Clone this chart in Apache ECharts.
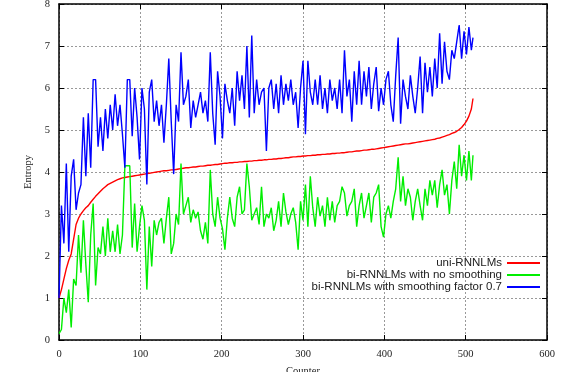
<!DOCTYPE html>
<html>
<head>
<meta charset="utf-8">
<script src="https://cdn.jsdelivr.net/npm/echarts@6/dist/echarts.min.js"></script>
<style>
  html, body { margin: 0; padding: 0; background: #fff; }
  #chart { width: 561px; height: 372px; }
</style>
</head>
<body>
<div id="chart"></div>
<script>
// sample positions (every 3rd counter, plus the last one)
const counters = [
  0, 3, 6, 9, 12, 15, 18, 21, 24, 27, 30, 33, 36, 39, 42, 45, 48, 51, 54, 57,
  60, 63, 66, 69, 72, 75, 78, 81, 84, 87, 90, 93, 96, 99, 102, 105, 108, 111, 114, 117,
  120, 123, 126, 129, 132, 135, 138, 141, 144, 147, 150, 153, 156, 159, 162, 165, 168, 171, 174, 177,
  180, 183, 186, 189, 192, 195, 198, 201, 204, 207, 210, 213, 216, 219, 222, 225, 228, 231, 234, 237,
  240, 243, 246, 249, 252, 255, 258, 261, 264, 267, 270, 273, 276, 279, 282, 285, 288, 291, 294, 297,
  300, 303, 306, 309, 312, 315, 318, 321, 324, 327, 330, 333, 336, 339, 342, 345, 348, 351, 354, 357,
  360, 363, 366, 369, 372, 375, 378, 381, 384, 387, 390, 393, 396, 399, 402, 405, 408, 411, 414, 417,
  420, 423, 426, 429, 432, 435, 438, 441, 444, 447, 450, 453, 456, 459, 462, 465, 468, 471, 474, 477,
  480, 483, 486, 489, 492, 495, 498, 501, 504, 507, 509
]

const uniRnnlm = [
  1.0, 1.2, 1.45, 1.7, 1.9, 2.05, 2.4, 2.75, 2.9, 3.0, 3.08, 3.15, 3.2, 3.28, 3.35, 3.42, 3.48, 3.54, 3.6, 3.65,
  3.7, 3.73, 3.76, 3.79, 3.82, 3.84, 3.86, 3.87, 3.88, 3.89, 3.9, 3.91, 3.92, 3.93, 3.94, 3.95, 3.96, 3.97, 3.98, 3.99,
  4.0, 4.01, 4.02, 4.03, 4.03, 4.04, 4.05, 4.05, 4.06, 4.07, 4.08, 4.09, 4.1, 4.1, 4.11, 4.12, 4.12, 4.13, 4.14, 4.14,
  4.15, 4.16, 4.16, 4.17, 4.18, 4.18, 4.19, 4.2, 4.21, 4.21, 4.22, 4.22, 4.23, 4.23, 4.24, 4.24, 4.25, 4.25, 4.26, 4.26,
  4.27, 4.27, 4.28, 4.28, 4.29, 4.29, 4.3, 4.3, 4.31, 4.31, 4.32, 4.32, 4.33, 4.34, 4.34, 4.35, 4.36, 4.36, 4.37, 4.37,
  4.38, 4.38, 4.39, 4.39, 4.4, 4.4, 4.41, 4.41, 4.42, 4.42, 4.43, 4.43, 4.44, 4.44, 4.45, 4.45, 4.46, 4.46, 4.47, 4.48,
  4.48, 4.49, 4.5, 4.5, 4.51, 4.52, 4.52, 4.53, 4.54, 4.54, 4.55, 4.56, 4.57, 4.58, 4.59, 4.6, 4.61, 4.62, 4.63, 4.64,
  4.65, 4.66, 4.67, 4.67, 4.68, 4.69, 4.7, 4.71, 4.72, 4.73, 4.74, 4.75, 4.76, 4.77, 4.78, 4.8, 4.81, 4.83, 4.85, 4.87,
  4.89, 4.92, 4.94, 4.97, 5.01, 5.06, 5.13, 5.21, 5.33, 5.5, 5.75
]

const biNoSmoothing = [
  0.15, 0.25, 1.0, 0.65, 1.2, 0.3, 1.45, 1.3, 2.5, 1.6, 2.85, 1.8, 0.9, 2.5, 3.25, 1.3, 2.2, 2.05, 2.7, 2.0,
  2.9, 2.1, 2.6, 2.1, 2.75, 2.05, 2.5, 4.15, 4.15, 4.15, 2.2, 3.25, 2.1, 2.7, 3.2, 2.85, 1.2, 2.7, 1.75, 2.85,
  2.5, 2.8, 2.9, 2.3, 2.9, 3.4, 2.05, 2.3, 3.0, 2.75, 4.2, 3.0, 3.2, 3.4, 2.8, 3.1, 2.9, 3.05, 2.6, 2.4,
  2.8, 2.3, 4.05, 3.0, 2.7, 3.4, 2.9, 2.65, 2.15, 2.9, 3.4, 2.9, 2.7, 3.4, 3.65, 3.0, 3.1, 4.2, 3.65, 2.85,
  3.0, 3.15, 2.75, 3.65, 2.7, 3.0, 2.9, 3.15, 2.6, 2.85, 3.3, 2.7, 3.5, 3.05, 2.75, 3.0, 3.15, 2.8, 2.15, 3.3,
  2.85, 3.7, 2.7, 3.9, 3.15, 2.7, 3.4, 2.95, 3.2, 2.7, 3.4, 2.85, 3.3, 2.8, 3.2, 3.3, 3.65, 3.5, 2.95, 3.2,
  3.3, 3.6, 2.7, 3.2, 3.5, 2.9, 3.2, 3.5, 2.8, 3.4, 3.5, 3.7, 2.7, 2.45, 3.0, 3.2, 2.9, 3.3, 3.6, 4.35,
  3.3, 3.9, 3.2, 3.6, 3.4, 2.85, 3.3, 3.6, 3.2, 2.85, 3.6, 3.2, 3.8, 3.45, 3.8, 3.15, 3.7, 4.05, 3.45, 3.7,
  3.0, 3.8, 4.25, 3.6, 4.65, 3.9, 4.4, 3.8, 4.5, 3.8, 4.4
]

const biSmoothing = [
  1.0, 3.2, 2.3, 4.2, 2.1, 3.9, 4.3, 3.1, 3.5, 3.7, 5.3, 3.9, 5.4, 4.1, 6.2, 6.2, 4.6, 5.3, 4.5, 5.5,
  4.8, 5.6, 5.0, 5.85, 5.1, 5.6, 4.9, 4.1, 6.2, 6.2, 4.85, 6.0, 5.3, 4.3, 6.0, 5.5, 3.7, 5.9, 6.2, 5.2,
  5.7, 5.1, 5.6, 4.7, 5.6, 6.7, 5.2, 3.95, 5.6, 5.2, 6.85, 5.6, 5.8, 6.2, 5.05, 5.7, 5.3, 5.6, 5.9, 5.4,
  5.7, 5.2, 6.85, 5.4, 4.65, 6.4, 5.8, 4.8, 6.1, 5.7, 5.4, 6.0, 5.1, 6.4, 5.7, 6.3, 5.5, 7.0, 5.3, 7.25,
  5.4, 6.2, 5.6, 5.9, 6.0, 4.5, 6.0, 6.2, 5.5, 6.1, 5.4, 6.3, 5.6, 6.1, 5.7, 6.2, 5.6, 5.9, 5.05, 6.0,
  6.65, 4.9, 6.65, 5.9, 5.6, 6.2, 5.6, 6.3, 5.5, 6.0, 5.4, 6.2, 5.7, 6.0, 5.5, 6.2, 5.4, 6.9, 5.8, 6.2,
  5.2, 6.4, 5.6, 6.65, 5.6, 6.4, 5.8, 6.5, 5.5, 6.1, 6.5, 5.45, 6.0, 5.6, 6.2, 6.4, 5.6, 5.2, 6.3, 7.2,
  5.15, 6.2, 5.8, 5.5, 6.3, 5.8, 5.4, 6.0, 6.75, 5.4, 6.6, 5.9, 6.5, 5.8, 6.7, 6.0, 7.3, 6.1, 7.1, 6.4,
  6.2, 6.9, 6.7, 7.1, 7.5, 6.7, 7.35, 6.8, 7.45, 6.9, 7.2
]

const seriesNames = ['uni-RNNLMs', 'bi-RNNLMs with no smoothing', 'bi-RNNLMs with smoothing factor 0.7']
const seriesColors = ['#ff0000', '#00ee00', '#0000ff']

const pairs = vals => counters.map((c, i) => [c, vals[i]])

const chart = echarts.init(document.getElementById('chart'))

const tickFont = { fontFamily: 'Liberation Serif', fontSize: 10.5, color: '#222' }
const gridLine = { show: true, lineStyle: { color: '#999', type: [2, 2], width: 1 } }
const blackLine = { show: true, onZero: false, lineStyle: { color: '#000', width: 1.5 } }
const inTick = { show: true, inside: true, length: 5, lineStyle: { color: '#000', width: 1 } }

chart.setOption({
  animation: false,
  backgroundColor: '#fff',
  grid: { left: 59, right: 14, top: 4, bottom: 32, outerBoundsMode: 'none', containLabel: false },
  xAxis: [
    {
      type: 'value', min: 0, max: 600, interval: 100,
      name: 'Counter', nameLocation: 'middle', nameGap: 26,
      nameTextStyle: tickFont,
      axisLine: blackLine, axisTick: inTick,
      axisLabel: { ...tickFont, margin: 9 },
      splitLine: gridLine
    },
    {
      type: 'value', position: 'top', min: 0, max: 600, interval: 100,
      axisLine: blackLine, axisTick: inTick,
      axisLabel: { show: false }, splitLine: { show: false }
    }
  ],
  yAxis: [
    {
      type: 'value', min: 0, max: 8, interval: 1,
      name: 'Entropy', nameLocation: 'middle', nameGap: 25, nameRotate: 90,
      nameTextStyle: tickFont,
      axisLine: blackLine, axisTick: inTick,
      axisLabel: { ...tickFont, margin: 9 },
      splitLine: gridLine
    },
    {
      type: 'value', position: 'right', min: 0, max: 8, interval: 1,
      axisLine: blackLine, axisTick: inTick,
      axisLabel: { show: false }, splitLine: { show: false }
    }
  ],
  legend: {
    orient: 'vertical', align: 'right',
    right: 21, top: 257, padding: 0,
    icon: 'rect', itemWidth: 33, itemHeight: 2, itemGap: 0,
    textStyle: { fontFamily: 'Liberation Sans', fontSize: 11.5, color: '#222', lineHeight: 11 },
    data: seriesNames
  },
  series: [uniRnnlm, biNoSmoothing, biSmoothing].map((vals, i) => ({
    name: seriesNames[i],
    type: 'line',
    data: pairs(vals),
    symbol: 'none',
    lineStyle: { color: seriesColors[i], width: 1.4 },
    itemStyle: { color: seriesColors[i] },
    z: 2 + i
  }))
})
</script>
</body>
</html>
